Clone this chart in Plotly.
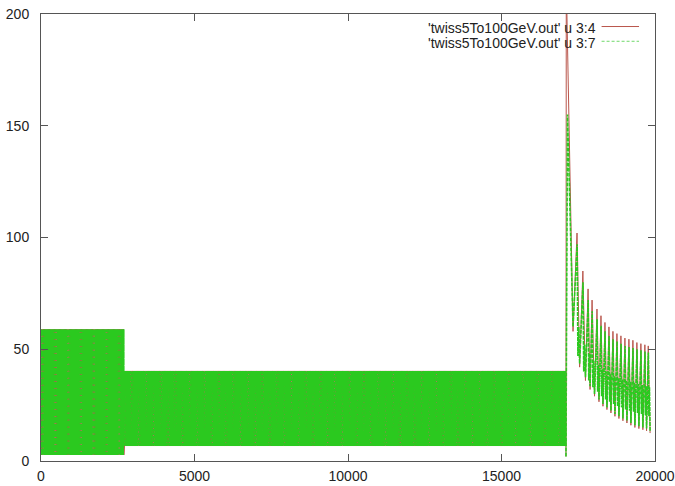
import numpy as np
import plotly.graph_objects as go

# Regular FODO sections: each cell repeats the same beta maximum / minimum
sec_start = [0, 2700]
sec_end = [2700, 17100]
sec_beta_max = [59.0, 40.3]
sec_beta_min = [2.7, 6.7]
sec_half_cell = [20, 20]

# Matching / injection section after s = 17100 m
# column 4: injection spike, then alternating peak / trough of each cell
col4_head_s = [17100, 17110, 17330]
col4_head_v = [2.0, 215.0, 58.0]
cell_peak_s = [17460, 17650, 17820, 17950, 18110, 18240, 18370, 18500, 18630,
               18760, 18890, 19020, 19150, 19280, 19410, 19540, 19670, 19780]
col4_peak_v = [102.0, 85.0, 77.0, 72.0, 68.0, 65.0, 62.0, 60.0, 58.0,
               57.0, 56.0, 55.0, 54.5, 54.0, 53.0, 52.5, 52.0, 51.5]
cell_trough_s = [17545, 17735, 17885, 18030, 18175, 18305, 18435, 18565, 18695,
                 18825, 18955, 19085, 19215, 19345, 19475, 19605, 19725, 19840]
col4_trough_v = [42.0, 36.0, 32.0, 29.0, 26.5, 24.5, 23.0, 21.5, 20.0,
                 19.0, 18.0, 17.0, 16.0, 15.0, 14.5, 14.0, 13.5, 12.5]

# column 7: injection spike, then per cell a peak, an inner dip / bump and a trough
col7_head_s = [17100, 17150, 17330]
col7_head_v = [2.0, 155.0, 60.0]
col7_peak_v = [97.0, 80.0, 72.0, 67.0, 63.5, 60.5, 58.0, 56.0, 54.5,
               53.5, 52.5, 51.5, 51.0, 50.5, 50.0, 49.5, 49.0, 48.5]
col7_dip_v = [47.0, 40.0, 36.0, 33.0, 31.0, 29.0, 27.5, 26.5, 25.5,
              24.5, 24.0, 23.0, 22.5, 22.0, 21.5, 21.0, 20.5, 20.0]
col7_bump_v = [60.0, 52.0, 48.0, 45.0, 43.0, 41.0, 40.0, 39.0, 38.0,
               37.0, 36.5, 36.0, 35.5, 35.0, 34.5, 34.0, 33.5, 33.0]
col7_trough_v = [43.5, 37.5, 33.5, 30.0, 27.5, 25.5, 24.0, 22.5, 21.0,
                 20.0, 19.0, 18.0, 17.0, 16.0, 15.5, 15.0, 14.5, 13.5]

legend_labels = ["'twiss5To100GeV.out' u 3:4", "'twiss5To100GeV.out' u 3:7"]
x_ticks = [0, 5000, 10000, 15000, 20000]
y_ticks = [0, 50, 100, 150, 200]

RED = "#b9564c"
GREEN = "#2bc91f"
FONT = "Liberation Sans, Arial, sans-serif"


def fodo_section(start, end, bmax, bmin, half_cell, start_high):
    s = np.arange(start, end + 1e-9, half_cell, dtype=float)
    high = np.arange(len(s)) % 2 == (0 if start_high else 1)
    return s, np.where(high, bmax, bmin)


def build(start_high):
    xs, ys = [], []
    for a, b, hi, lo, hc in zip(sec_start, sec_end, sec_beta_max, sec_beta_min, sec_half_cell):
        s, v = fodo_section(a, b, hi, lo, hc, start_high)
        xs.append(s)
        ys.append(v)
    return np.concatenate(xs), np.concatenate(ys)


s4, b4 = build(True)
s7, b7 = build(False)

# matching-section paths
m4_s, m4_v = list(col4_head_s), list(col4_head_v)
for ps, pv, ts, tv in zip(cell_peak_s, col4_peak_v, cell_trough_s, col4_trough_v):
    m4_s += [ps, ts]
    m4_v += [pv, tv]

m7_s, m7_v = list(col7_head_s), list(col7_head_v)
for ps, pv, dv, bv, ts, tv in zip(cell_peak_s, col7_peak_v, col7_dip_v, col7_bump_v,
                                  cell_trough_s, col7_trough_v):
    step = (ts - ps) / 3.0
    m7_s += [ps + 5, ps + step, ps + 2 * step, ts]
    m7_v += [pv, dv, bv, tv]

fig = go.Figure()
# column 4 (solid red): ring lattice, then matching section
fig.add_trace(go.Scatter(x=s4, y=b4, mode="lines", name=legend_labels[0],
                         line=dict(color=RED, width=1), showlegend=False))
fig.add_trace(go.Scatter(x=m4_s, y=m4_v, mode="lines", name=legend_labels[0],
                         line=dict(color=RED, width=1), showlegend=False))
# column 7 (dashed green) on top
fig.add_trace(go.Scatter(x=s7, y=b7, mode="lines", name=legend_labels[1],
                         line=dict(color=GREEN, width=1.4, dash="6px,1px"), showlegend=False))
fig.add_trace(go.Scatter(x=m7_s, y=m7_v, mode="lines", name=legend_labels[1],
                         line=dict(color=GREEN, width=1.6, dash="4px,1px"), showlegend=False))

# gnuplot-style key: right-aligned text with the line sample on its right
key_rows = [(0.968, RED, "solid"), (0.935, "#6fd86a", "3px,2px")]
for (ky, col, dash), label in zip(key_rows, legend_labels):
    fig.add_annotation(x=0.9055, y=ky, xref="paper", yref="paper", text=label,
                       showarrow=False, xanchor="right", yanchor="middle", borderpad=0,
                       font=dict(family=FONT, size=14, color="#222"))
    fig.add_shape(type="line", xref="paper", yref="paper", x0=0.913, x1=0.974,
                  y0=ky + 0.004, y1=ky + 0.004, line=dict(color=col, width=1, dash=dash))

axis_common = dict(showgrid=False, zeroline=False, showline=True, linecolor="#555",
                   linewidth=1, mirror="ticks", ticks="inside", ticklen=7,
                   tickcolor="#555", tickwidth=1, automargin=False,
                   tickfont=dict(family=FONT, size=14, color="#222"))

fig.update_xaxes(range=[0, 20000], tickvals=x_ticks, ticktext=[str(t) for t in x_ticks],
                 ticklabelstandoff=2, **axis_common)
fig.update_yaxes(range=[0, 200], tickvals=y_ticks, ticktext=[str(t) for t in y_ticks],
                 ticklabelstandoff=8, **axis_common)

fig.update_layout(width=675, height=486, margin=dict(l=41, r=20, t=14, b=25),
                  plot_bgcolor="white", paper_bgcolor="white")

fig.write_html("out.html")
